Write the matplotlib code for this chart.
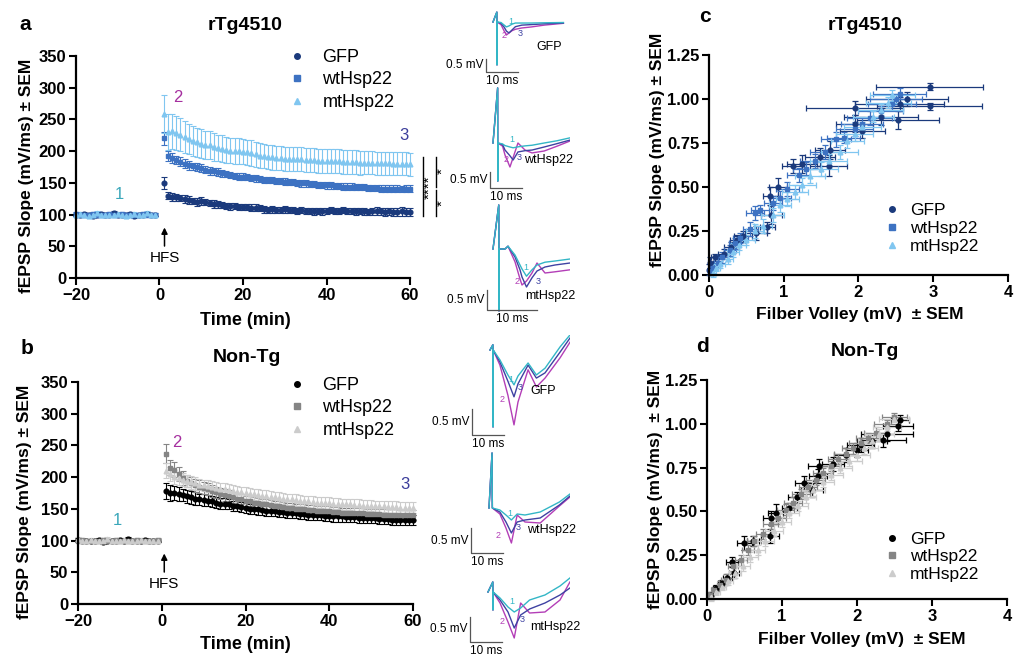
import matplotlib
matplotlib.use('Agg')
import matplotlib.pyplot as plt
from matplotlib.lines import Line2D

plt.rcParams['font.family'] = ['Liberation Sans', 'DejaVu Sans']

# ---------------- datos: curso temporal (LTP) ----------------
time_min = list(range(-20, 0)) + list(range(1, 61))
base_sem = 3

a_gfp_base = [100, 99, 101, 100, 98, 100, 101, 99, 100, 102, 100, 99, 100, 101, 98, 99, 100, 101, 100, 100]
a_wt_base = [101, 100, 99, 100, 101, 99, 100, 100, 101, 100, 99, 101, 100, 99, 100, 100, 101, 99, 100, 100]
a_mt_base = [99, 101, 100, 98, 100, 102, 99, 100, 100, 99, 101, 100, 98, 100, 101, 99, 100, 102, 100, 99]

a_gfp_post = [150, 130, 128, 127, 126, 125, 123, 121, 120, 121,
              120, 118, 117, 116, 115, 114, 113, 113, 112, 112,
              112, 111, 111, 110, 108, 107, 108, 107, 107, 108,
              107, 107, 106, 107, 106, 106, 105, 106, 105, 106,
              107, 106, 106, 107, 106, 106, 105, 106, 105, 104,
              105, 106, 105, 104, 105, 104, 104, 105, 104, 104]
a_gfp_err = [9, 6, 6, 6, 5, 6, 6, 5, 6, 6,
             5, 5, 6, 5, 5, 5, 6, 5, 5, 5,
             5, 5, 6, 5, 5, 5, 5, 5, 5, 5,
             5, 5, 5, 5, 5, 5, 5, 5, 5, 5,
             5, 5, 5, 5, 5, 5, 5, 5, 5, 5,
             6, 6, 6, 6, 6, 6, 7, 7, 7, 7]
a_wt_post = [220, 193, 189, 186, 183, 180, 178, 176, 175, 173,
             171, 169, 168, 167, 165, 164, 162, 161, 160, 160,
             159, 158, 157, 156, 155, 155, 154, 153, 153, 152,
             151, 151, 150, 149, 149, 148, 148, 147, 147, 146,
             146, 145, 145, 144, 144, 144, 143, 143, 143, 142,
             142, 142, 141, 141, 141, 141, 141, 140, 141, 141]
a_wt_err = [10, 8, 8, 7, 7, 7, 7, 6, 6, 6,
            6, 6, 6, 6, 6, 5, 5, 5, 5, 5,
            5, 5, 5, 5, 5, 5, 5, 5, 5, 5,
            5, 5, 5, 5, 5, 5, 5, 5, 5, 5,
            5, 5, 5, 5, 5, 5, 5, 5, 5, 5,
            5, 5, 5, 5, 5, 5, 5, 5, 5, 6]
a_mt_post = [258, 230, 231, 229, 226, 222, 219, 216, 214, 212,
             210, 209, 207, 205, 204, 202, 201, 200, 200, 199,
             198, 197, 195, 193, 192, 191, 190, 189, 189, 188,
             188, 187, 187, 187, 186, 186, 186, 185, 185, 185,
             184, 184, 184, 183, 183, 183, 183, 182, 182, 182,
             182, 181, 181, 181, 181, 180, 180, 180, 180, 179]
a_mt_err = [30, 28, 28, 27, 26, 25, 24, 24, 23, 23,
            22, 22, 22, 21, 21, 21, 20, 20, 20, 20,
            20, 20, 20, 20, 19, 19, 19, 19, 19, 19,
            19, 19, 19, 19, 19, 19, 19, 19, 19, 19,
            19, 19, 19, 19, 19, 19, 19, 19, 18, 18,
            18, 18, 18, 18, 18, 18, 18, 18, 18, 18]

b_gfp_base = [101, 100, 99, 100, 100, 101, 98, 99, 100, 100, 101, 100, 102, 100, 99, 100, 101, 100, 99, 100]
b_wt_base = [100, 101, 100, 99, 100, 100, 101, 100, 99, 101, 100, 100, 99, 100, 101, 100, 100, 99, 100, 101]
b_mt_base = [102, 100, 100, 101, 99, 100, 100, 102, 100, 99, 100, 101, 100, 100, 99, 101, 100, 100, 100, 100]

b_gfp_post = [178, 175, 175, 173, 172, 170, 168, 166, 165, 164,
              163, 162, 160, 158, 158, 157, 155, 155, 153, 152,
              150, 150, 149, 148, 147, 146, 146, 145, 145, 144,
              144, 143, 142, 142, 141, 141, 140, 140, 139, 139,
              138, 138, 138, 137, 137, 137, 136, 136, 135, 135,
              135, 134, 134, 134, 133, 133, 133, 133, 132, 132]
b_gfp_err = [12, 12, 11, 11, 10, 10, 10, 10, 9, 9,
             9, 9, 9, 9, 9, 8, 8, 8, 8, 8,
             8, 8, 8, 8, 8, 8, 8, 8, 8, 8,
             8, 8, 8, 8, 8, 8, 8, 8, 8, 8,
             8, 8, 8, 8, 8, 8, 8, 8, 8, 8,
             8, 8, 8, 8, 8, 8, 8, 8, 8, 8]
b_wt_post = [237, 215, 212, 205, 198, 194, 190, 187, 185, 183,
             181, 178, 176, 174, 172, 170, 168, 166, 165, 163,
             162, 160, 159, 158, 157, 156, 155, 154, 153, 152,
             151, 150, 150, 149, 148, 148, 147, 147, 146, 146,
             145, 145, 144, 144, 144, 143, 143, 143, 142, 142,
             142, 142, 141, 141, 141, 141, 140, 140, 140, 140]
b_wt_err = [15, 12, 12, 11, 11, 10, 10, 10, 10, 9,
            9, 9, 9, 9, 9, 9, 9, 8, 8, 8,
            8, 8, 8, 8, 8, 8, 8, 8, 8, 8,
            8, 8, 8, 8, 8, 8, 8, 8, 8, 8,
            8, 8, 8, 8, 8, 8, 8, 8, 8, 8,
            8, 8, 8, 8, 8, 8, 8, 8, 8, 8]
b_mt_post = [210, 205, 200, 198, 196, 194, 192, 190, 188, 187,
             186, 185, 183, 182, 181, 180, 178, 177, 176, 175,
             174, 173, 172, 171, 170, 169, 168, 167, 166, 165,
             165, 164, 163, 162, 162, 161, 160, 160, 159, 159,
             158, 158, 157, 157, 157, 156, 156, 155, 155, 155,
             154, 154, 154, 153, 153, 153, 152, 152, 152, 152]
b_mt_err = [12, 11, 11, 10, 10, 10, 10, 10, 9, 9,
            9, 9, 9, 9, 9, 9, 9, 9, 9, 9,
            9, 9, 9, 9, 9, 9, 9, 9, 9, 9,
            9, 9, 9, 9, 9, 9, 9, 9, 9, 9,
            9, 9, 9, 9, 9, 9, 9, 9, 9, 9,
            9, 9, 9, 9, 9, 9, 9, 9, 9, 9]

# ---------------- datos: curvas entrada/salida ----------------
c_gfp_x = [0.0, 0.02, 0.08, 0.2, 0.3, 0.38, 0.45, 0.63, 0.78, 0.83, 0.82, 0.92, 1.12, 1.25, 1.48, 1.6, 1.62, 1.95, 2.05, 1.95, 2.53, 2.3, 2.55, 2.65, 2.95, 2.95]
c_gfp_y = [0.03, 0.07, 0.1, 0.12, 0.16, 0.2, 0.22, 0.24, 0.27, 0.34, 0.45, 0.5, 0.62, 0.63, 0.67, 0.62, 0.71, 0.86, 0.82, 0.95, 0.88, 0.9, 0.97, 1.0, 0.96, 1.07]
c_gfp_xerr = [0.02, 0.03, 0.05, 0.08, 0.1, 0.1, 0.12, 0.15, 0.1, 0.14, 0.1, 0.12, 0.15, 0.2, 0.2, 0.25, 0.2, 0.25, 0.3, 0.65, 0.55, 0.5, 0.6, 0.55, 0.7, 0.72]
c_gfp_yerr = [0.03, 0.03, 0.02, 0.03, 0.03, 0.03, 0.03, 0.04, 0.03, 0.05, 0.05, 0.05, 0.04, 0.05, 0.05, 0.06, 0.05, 0.05, 0.04, 0.04, 0.05, 0.05, 0.04, 0.04, 0.02, 0.02]
c_wt_x = [0.02, 0.05, 0.12, 0.18, 0.28, 0.35, 0.42, 0.55, 0.62, 0.68, 0.85, 0.95, 1.05, 1.2, 1.3, 1.42, 1.55, 1.7, 1.8, 1.95, 2.05, 2.15, 2.3, 2.45, 2.5, 2.55]
c_wt_y = [0.02, 0.04, 0.07, 0.1, 0.14, 0.18, 0.21, 0.26, 0.35, 0.37, 0.41, 0.44, 0.49, 0.57, 0.6, 0.65, 0.7, 0.77, 0.78, 0.83, 0.86, 0.89, 0.93, 0.97, 1.0, 1.03]
c_wt_xerr = [0.03, 0.04, 0.05, 0.07, 0.08, 0.08, 0.1, 0.1, 0.12, 0.12, 0.12, 0.15, 0.15, 0.15, 0.18, 0.2, 0.2, 0.2, 0.22, 0.25, 0.28, 0.3, 0.3, 0.32, 0.35, 0.35]
c_wt_yerr = [0.02, 0.02, 0.03, 0.03, 0.03, 0.03, 0.03, 0.04, 0.04, 0.03, 0.04, 0.04, 0.04, 0.04, 0.04, 0.04, 0.04, 0.04, 0.03, 0.04, 0.04, 0.04, 0.03, 0.03, 0.03, 0.03]
c_mt_x = [0.05, 0.1, 0.15, 0.25, 0.32, 0.4, 0.5, 0.62, 0.72, 0.85, 0.95, 1.05, 1.15, 1.25, 1.35, 1.5, 1.6, 1.75, 1.85, 1.95, 2.05, 2.2, 2.3, 2.4, 2.45]
c_mt_y = [0.01, 0.04, 0.06, 0.09, 0.13, 0.17, 0.2, 0.25, 0.28, 0.34, 0.4, 0.43, 0.47, 0.51, 0.56, 0.6, 0.65, 0.7, 0.76, 0.8, 0.84, 0.9, 0.94, 0.98, 1.02]
c_mt_xerr = [0.04, 0.05, 0.06, 0.07, 0.08, 0.1, 0.12, 0.12, 0.12, 0.15, 0.15, 0.15, 0.18, 0.18, 0.2, 0.22, 0.25, 0.25, 0.22, 0.25, 0.25, 0.28, 0.3, 0.3, 0.3]
c_mt_yerr = [0.02, 0.02, 0.02, 0.03, 0.03, 0.03, 0.03, 0.04, 0.04, 0.04, 0.04, 0.04, 0.04, 0.04, 0.04, 0.04, 0.04, 0.04, 0.04, 0.04, 0.03, 0.03, 0.03, 0.03, 0.03]

d_gfp_x = [0.05, 0.12, 0.2, 0.27, 0.36, 0.33, 0.5, 0.62, 0.84, 0.85, 0.92, 1.1, 1.2, 1.3, 1.4, 1.48, 1.5, 1.68, 1.85, 2.0, 2.05, 2.2, 2.35, 2.4, 2.55, 2.58]
d_gfp_y = [0.02, 0.06, 0.09, 0.12, 0.15, 0.21, 0.32, 0.33, 0.36, 0.46, 0.49, 0.52, 0.58, 0.66, 0.62, 0.7, 0.76, 0.77, 0.82, 0.85, 0.88, 0.9, 0.91, 0.94, 0.99, 1.02]
d_gfp_xerr = [0.03, 0.04, 0.05, 0.06, 0.07, 0.08, 0.1, 0.08, 0.12, 0.1, 0.1, 0.1, 0.12, 0.12, 0.15, 0.12, 0.15, 0.15, 0.15, 0.15, 0.18, 0.2, 0.3, 0.35, 0.2, 0.12]
d_gfp_yerr = [0.02, 0.02, 0.02, 0.02, 0.03, 0.03, 0.04, 0.03, 0.04, 0.04, 0.05, 0.03, 0.03, 0.04, 0.04, 0.04, 0.04, 0.04, 0.04, 0.04, 0.04, 0.04, 0.04, 0.04, 0.03, 0.03]
d_wt_x = [0.04, 0.1, 0.18, 0.25, 0.35, 0.45, 0.55, 0.63, 0.75, 0.85, 0.95, 1.05, 1.15, 1.25, 1.35, 1.45, 1.55, 1.65, 1.75, 1.85, 1.95, 2.05, 2.15, 2.25, 2.4, 2.5]
d_wt_y = [0.02, 0.05, 0.08, 0.11, 0.19, 0.22, 0.28, 0.33, 0.37, 0.43, 0.46, 0.51, 0.55, 0.6, 0.64, 0.68, 0.72, 0.76, 0.8, 0.83, 0.86, 0.89, 0.92, 0.95, 1.0, 1.04]
d_wt_xerr = [0.04, 0.05, 0.05, 0.06, 0.07, 0.08, 0.08, 0.09, 0.1, 0.1, 0.1, 0.11, 0.12, 0.12, 0.12, 0.13, 0.13, 0.14, 0.14, 0.15, 0.15, 0.15, 0.16, 0.16, 0.17, 0.17]
d_wt_yerr = [0.02, 0.02, 0.02, 0.03, 0.03, 0.03, 0.03, 0.03, 0.03, 0.03, 0.03, 0.03, 0.03, 0.03, 0.03, 0.03, 0.03, 0.03, 0.03, 0.03, 0.03, 0.03, 0.03, 0.03, 0.02, 0.02]
d_mt_x = [0.06, 0.12, 0.2, 0.28, 0.38, 0.48, 0.58, 0.68, 0.78, 0.9, 1.0, 1.1, 1.22, 1.32, 1.42, 1.55, 1.65, 1.78, 1.9, 2.0, 2.1, 2.2, 2.3, 2.4, 2.5]
d_mt_y = [0.01, 0.04, 0.07, 0.1, 0.15, 0.19, 0.24, 0.28, 0.33, 0.39, 0.44, 0.49, 0.53, 0.58, 0.62, 0.67, 0.71, 0.75, 0.79, 0.82, 0.86, 0.9, 0.94, 0.98, 1.03]
d_mt_xerr = [0.04, 0.05, 0.06, 0.07, 0.08, 0.09, 0.1, 0.1, 0.11, 0.12, 0.12, 0.13, 0.13, 0.14, 0.15, 0.15, 0.16, 0.16, 0.17, 0.17, 0.18, 0.18, 0.19, 0.19, 0.2]
d_mt_yerr = [0.02, 0.02, 0.02, 0.02, 0.03, 0.03, 0.03, 0.03, 0.03, 0.03, 0.03, 0.03, 0.03, 0.03, 0.03, 0.03, 0.03, 0.03, 0.03, 0.03, 0.03, 0.03, 0.03, 0.02, 0.02]

# ---------------- datos: trazos representativos (ms, mV) ----------------
tr_a_gfp_ms = [0, 1.2, 1.25, 1.3, 2.5, 3.5, 4.2, 5.0, 6.0, 7.0, 9.0, 12.0, 16.0, 22.0]
tr_a_gfp_1 = [0, 0.38, -1.65, 0, -0.02, -0.12, -0.19, -0.15, -0.08, -0.04, -0.04, -0.04, -0.03, -0.02]
tr_a_gfp_2 = [0, 0.38, -1.65, 0, -0.1, -0.35, -0.5, -0.42, -0.33, -0.28, -0.23, -0.19, -0.12, -0.05]
tr_a_gfp_3 = [0, 0.38, -1.65, 0, -0.05, -0.2, -0.35, -0.42, -0.3, -0.18, -0.12, -0.1, -0.07, -0.04]

tr_a_wt_ms = [0, 1.45, 1.5, 1.55, 3.0, 3.75, 5.3, 6.3, 7.8, 10.0, 12.2, 16.0, 20.0, 24.0]
tr_a_wt_1 = [0, 1.72, -1.19, 0, -0.03, -0.08, -0.125, -0.15, -0.12, -0.09, -0.07, 0, 0.07, 0.16]
tr_a_wt_2 = [0, 1.72, -1.19, 0, -0.1, -0.375, -0.75, -0.45, 0.0, -0.22, -0.31, -0.25, -0.1, 0.06]
tr_a_wt_3 = [0, 1.72, -1.19, 0, -0.05, -0.22, -0.4, -0.53, -0.28, -0.24, -0.22, -0.125, -0.02, 0.09]

tr_a_mt_ms = [0, 1.15, 1.2, 1.25, 2.4, 3.0, 4.4, 5.4, 5.8, 6.7, 7.8, 8.8, 10.4, 12.4, 15.4]
tr_a_mt_1 = [0, 1.1, -1.55, 0, 0, 0.07, -0.15, -0.4, -0.5, -0.68, -0.52, -0.4, -0.33, -0.3, -0.25]
tr_a_mt_2 = [0, 1.1, -1.55, 0, 0, 0.07, -0.32, -0.75, -0.9, -0.8, -0.6, -0.35, -0.6, -0.57, -0.52]
tr_a_mt_3 = [0, 1.1, -1.55, 0, 0, 0.07, -0.2, -0.52, -0.7, -0.95, -0.72, -0.55, -0.45, -0.4, -0.35]

tr_b_gfp_ms = [0, 0.9, 0.95, 1.0, 3.1, 5.6, 7.5, 8.75, 11.9, 14.5, 17.2, 21.9, 25.0]
tr_b_gfp_1 = [0, 0.1, -1.48, 0, -0.19, -0.48, -0.67, -0.5, -0.25, -0.48, -0.35, 0.06, 0.29]
tr_b_gfp_2 = [0, 0.1, -1.48, 0, -0.29, -0.87, -1.44, -1.0, -0.38, -0.71, -0.54, -0.15, 0.15]
tr_b_gfp_3 = [0, 0.1, -1.48, 0, -0.23, -0.6, -0.9, -0.65, -0.29, -0.54, -0.44, -0.04, 0.23]

tr_b_wt_ms = [0, 0.95, 1.05, 3.4, 5.3, 7.0, 8.8, 11.25, 16.0, 22.0, 25.3]
tr_b_wt_1 = [0, 1.1, 0, -0.04, -0.14, -0.24, -0.12, -0.14, -0.08, 0.12, 0.28]
tr_b_wt_2 = [0, 1.1, 0, -0.12, -0.4, -0.7, -0.14, -0.28, -0.3, 0.04, 0.22]
tr_b_wt_3 = [0, 1.1, 0, -0.08, -0.28, -0.5, -0.28, -0.24, -0.2, 0.06, 0.24]

tr_b_mt_ms = [0, 1.5, 1.55, 1.6, 3.75, 6.25, 8.2, 10.2, 13.0, 17.8, 22.5, 25.6]
tr_b_mt_1 = [0, 0.2, -0.36, 0, -0.12, -0.3, -0.4, -0.32, -0.16, -0.06, 0.12, 0.28]
tr_b_mt_2 = [0, 0.2, -0.36, 0, -0.22, -0.6, -0.92, -0.22, -0.42, -0.4, -0.16, 0.2]
tr_b_mt_3 = [0, 0.2, -0.36, 0, -0.16, -0.4, -0.72, -0.46, -0.34, -0.22, -0.06, 0.08]

group_labels = ['GFP', 'wtHsp22', 'mtHsp22']
markers = ['o', 's', '^']
blues = ['#1b3a7c', '#3d72c2', '#80c6f0']
greys = ['#000000', '#858585', '#cccccc']
col1, col2, col3 = '#3aa7ba', '#a52f9f', '#3b3d9b'   # ventanas 1, 2, 3
tr1, tr2, tr3 = '#33b6c6', '#b33eb7', '#3e42a2'

W, H = 1020, 658
fig = plt.figure(figsize=(W / 100, H / 100), dpi=100)


def px_axes(l, t, r, b):
    return fig.add_axes([l / W, 1 - b / H, (r - l) / W, (b - t) / H])


def ftext(x, y, s, **kw):
    fig.text(x / W, 1 - y / H, s, ha='center', va='center', **kw)


def style(ax):
    for s in ['top', 'right']:
        ax.spines[s].set_visible(False)
    for s in ['left', 'bottom']:
        ax.spines[s].set_linewidth(1.6)
    ax.tick_params(width=1.5, length=5, labelsize=12, pad=2)
    for lab in ax.get_xticklabels() + ax.get_yticklabels():
        lab.set_fontweight('bold')


def add_legend(ax, colors, left, top, size, spacing, pad):
    handles = [Line2D([], [], ls='none', marker=m, color=c, ms=4) for m, c in zip(markers, colors)]
    ax.legend(handles, group_labels, loc='upper left', bbox_to_anchor=(left / W, 1 - top / H),
              bbox_transform=fig.transFigure, frameon=False, fontsize=size, borderpad=0,
              borderaxespad=0, handlelength=1.0, handletextpad=pad, labelspacing=spacing)


def time_panel(box, series, colors, win_pos, hfs_x):
    ax = px_axes(*box)
    for (base, post, err), c, m in zip(series, colors, markers):
        ax.errorbar(time_min, base + post, yerr=[base_sem] * len(base) + err, fmt=m, ms=3.4,
                    color=c, ecolor=c, elinewidth=0.8, capsize=2, capthick=0.8, clip_on=False)
    ax.set_xlim(-20, 60)
    ax.set_ylim(0, 350)
    ax.set_xticks([-20, 0, 20, 40, 60])
    ax.set_yticks(range(0, 351, 50))
    style(ax)
    ax.set_xlabel('Time (min)', fontsize=13, fontweight='bold')
    ax.set_ylabel('fEPSP Slope (mV/ms) ± SEM', fontsize=12.5, fontweight='bold')
    for (x, y), s, c in zip(win_pos, ['1', '2', '3'], [col1, col2, col3]):
        ax.text(x, y, s, color=c, fontsize=12, ha='center', va='center')
    ax.annotate('', xy=(hfs_x, 84), xytext=(hfs_x, 46),
                arrowprops=dict(arrowstyle='-|>', color='black', lw=1.1, mutation_scale=9))
    ax.text(hfs_x, 32, 'HFS', fontsize=11, ha='center', va='center')
    return ax


def io_panel(box, series, colors, ylabel):
    ax = px_axes(*box)
    for (x, y, xe, ye), c, m in zip(series, colors, markers):
        ax.errorbar(x, y, xerr=xe, yerr=ye, fmt=m, ms=3.4, color=c, ecolor=c,
                    elinewidth=0.9, capsize=2, capthick=0.9, clip_on=False)
    ax.set_xlim(0, 4)
    ax.set_ylim(0, 1.25)
    ax.set_xticks([0, 1, 2, 3, 4])
    ax.set_yticks([0, 0.25, 0.5, 0.75, 1.0, 1.25])
    ax.set_yticklabels(['0.00', '0.25', '0.50', '0.75', '1.00', '1.25'])
    style(ax)
    ax.set_xlabel('Filber Volley (mV)  ± SEM', fontsize=12.5, fontweight='bold')
    ax.set_ylabel(ylabel, fontsize=12.5, fontweight='bold')
    return ax


def trace_panel(box, origin, pxms, pxmv, t, v1, v2, v3, corner, name, name_pos, nums_pos):
    l, tp, r, b = box
    x0, y0 = origin
    ax = px_axes(l, tp, r, b)
    ax.plot(t, v2, color=tr2, lw=1.0)
    ax.plot(t, v3, color=tr3, lw=1.0)
    ax.plot(t, v1, color=tr1, lw=1.0)
    bx, by = corner
    ax.plot([bx, bx, bx + 10], [by + 0.5, by, by], color='#555555', lw=0.9, clip_on=False)
    ax.set_xlim((l - x0) / pxms, (r - x0) / pxms)
    ax.set_ylim((y0 - b) / pxmv, (y0 - tp) / pxmv)
    ax.axis('off')
    ax.annotate('0.5 mV', (bx, by + 0.25), xytext=(-2, 0), textcoords='offset points',
                ha='right', va='center', fontsize=8.5)
    ax.annotate('10 ms', (bx + 5, by), xytext=(0, -2), textcoords='offset points',
                ha='center', va='top', fontsize=8.5)
    ftext(name_pos[0], name_pos[1], name, fontsize=9)
    for (x, y), s, c in zip(nums_pos, ['1', '2', '3'], [tr1, tr2, tr3]):
        ftext(x, y, s, fontsize=6.5, color=c)


# ---------- panel a ----------
ax_a = time_panel((76, 56, 410, 278),
                  [(a_gfp_base, a_gfp_post, a_gfp_err), (a_wt_base, a_wt_post, a_wt_err),
                   (a_mt_base, a_mt_post, a_mt_err)],
                  blues, [(-9.7, 131), (4.4, 285), (58.6, 225)], 1.2)
ax_a.yaxis.set_label_coords(-0.125, 0.46)
ax_a.xaxis.set_label_coords(0.506, -0.155)
add_legend(ax_a, blues, 288, 49, 13, 0.3, 0.9)

# significancia
kw = dict(color='black', lw=1.0, clip_on=False)
ax_a.plot([63.2, 63.2], [98, 190], **kw)
ax_a.plot([66.2, 66.2], [143, 190], **kw)
ax_a.plot([66.2, 66.2], [98, 138], **kw)
ax_a.text(64.7, 143, '****', rotation=90, ha='center', va='center', fontsize=11, clip_on=False)
ax_a.text(67.8, 168, '*', rotation=90, ha='center', va='center', fontsize=11, clip_on=False)
ax_a.text(67.8, 118, '*', rotation=90, ha='center', va='center', fontsize=11, clip_on=False)

# ---------- panel b ----------
ax_b = time_panel((78, 382, 413, 604),
                  [(b_gfp_base, b_gfp_post, b_gfp_err), (b_wt_base, b_wt_post, b_wt_err),
                   (b_mt_base, b_mt_post, b_mt_err)],
                  greys, [(-10.7, 131), (3.6, 255), (58, 189)], 0.6)
ax_b.yaxis.set_label_coords(-0.137, 0.46)
ax_b.xaxis.set_label_coords(0.5, -0.145)
add_legend(ax_b, greys, 288, 377, 13, 0.3, 0.9)

# ---------- panel c / d ----------
ax_c = io_panel((709, 55, 1008, 275),
                [(c_gfp_x, c_gfp_y, c_gfp_xerr, c_gfp_yerr), (c_wt_x, c_wt_y, c_wt_xerr, c_wt_yerr),
                 (c_mt_x, c_mt_y, c_mt_xerr, c_mt_yerr)], blues, 'fEPSP Slope (mV/ms) ± SEM')
ax_c.yaxis.set_label_coords(-0.147, 0.57)
ax_c.xaxis.set_label_coords(0.505, -0.145)
add_legend(ax_c, blues, 883, 203, 12.5, 0.15, 0.55)

ax_d = io_panel((707, 380, 1007, 599),
                [(d_gfp_x, d_gfp_y, d_gfp_xerr, d_gfp_yerr), (d_wt_x, d_wt_y, d_wt_xerr, d_wt_yerr),
                 (d_mt_x, d_mt_y, d_mt_xerr, d_mt_yerr)], greys, 'fEPSP Slope (mV/ms)  ± SEM')
ax_d.yaxis.set_label_coords(-0.147, 0.5)
ax_d.xaxis.set_label_coords(0.517, -0.15)
add_legend(ax_d, greys, 883, 532, 12.5, 0.12, 0.55)

# ---------- trazos ----------
trace_panel((440, 3, 570, 92), (493, 22), 3.2, 26, tr_a_gfp_ms, tr_a_gfp_1, tr_a_gfp_2, tr_a_gfp_3,
            (-2.2, -1.92), 'GFP', (549, 47), [(511, 21), (504, 35), (520, 34)])
trace_panel((440, 85, 570, 200), (493, 143), 3.2, 32, tr_a_wt_ms, tr_a_wt_1, tr_a_wt_2, tr_a_wt_3,
            (-0.94, -1.41), 'wtHsp22', (549, 160), [(512, 140), (506, 160), (519, 157)])
trace_panel((440, 200, 570, 330), (493, 249), 5.0, 40, tr_a_mt_ms, tr_a_mt_1, tr_a_mt_2, tr_a_mt_3,
            (-1.2, -1.52), 'mtHsp22', (550, 296), [(526, 268), (517, 282), (538, 282)])
trace_panel((440, 335, 570, 450), (490, 350), 3.2, 52, tr_b_gfp_ms, tr_b_gfp_1, tr_b_gfp_2, tr_b_gfp_3,
            (-5.6, -1.63), 'GFP', (543, 391), [(511, 380), (502, 400), (520, 388)])
trace_panel((440, 445, 570, 570), (489, 508), 3.2, 50, tr_b_wt_ms, tr_b_wt_1, tr_b_wt_2, tr_b_wt_3,
            (-5.6, -0.9), 'wtHsp22', (552, 530), [(510, 513), (498, 535), (518, 527)])
trace_panel((440, 570, 570, 658), (488, 592), 3.2, 50, tr_b_mt_ms, tr_b_mt_1, tr_b_mt_2, tr_b_mt_3,
            (-5.6, -1.0), 'mtHsp22', (555, 627), [(512, 602), (502, 622), (522, 620)])

# ---------- titulos y letras ----------
ftext(245, 25, 'rTg4510', fontsize=14, fontweight='bold')
ftext(247, 358, 'Non-Tg', fontsize=14, fontweight='bold')
ftext(865, 25, 'rTg4510', fontsize=14, fontweight='bold')
ftext(865, 352, 'Non-Tg', fontsize=14, fontweight='bold')
ftext(25, 24, 'a', fontsize=15, fontweight='bold')
ftext(27, 349, 'b', fontsize=15, fontweight='bold')
ftext(705, 16, 'c', fontsize=15, fontweight='bold')
ftext(703, 346, 'd', fontsize=15, fontweight='bold')

fig.savefig('out.png', dpi=100)
